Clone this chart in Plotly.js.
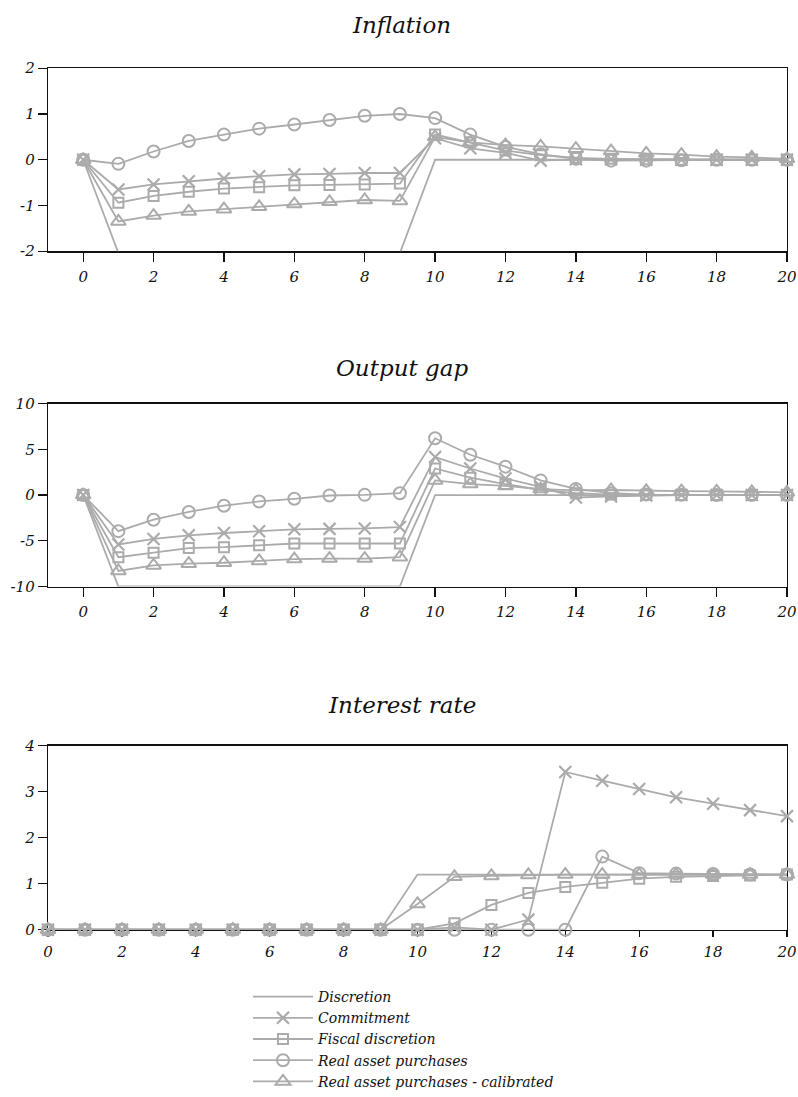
<!DOCTYPE html>
<html>
<head>
<meta charset="utf-8">
<script src="https://cdn.plot.ly/plotly-3.0.1.min.js"></script>
<style>
  html, body { margin: 0; padding: 0; background: #fff; }
  #chart { width: 798px; height: 1097px; }
</style>
</head>
<body>
<div id="chart"></div>
<script>
// Periods after the shock
const periods = [0,1,2,3,4,5,6,7,8,9,10,11,12,13,14,15,16,17,18,19,20];

const seriesNames = ['Discretion', 'Commitment', 'Fiscal discretion',
  'Real asset purchases', 'Real asset purchases - calibrated'];

// Inflation responses
const inflDiscretion = [0,-2.04,-2.04,-2.04,-2.04,-2.04,-2.04,-2.04,-2.04,-2.04,0,0,0,0,0,0,0,0,0,0,0];
const inflCommitment = [0,-0.65,-0.54,-0.47,-0.41,-0.36,-0.32,-0.31,-0.29,-0.29,0.47,0.25,0.15,-0.02,0.01,0.01,0,0,0,0,0];
const inflFiscal     = [0,-0.94,-0.79,-0.70,-0.63,-0.60,-0.56,-0.55,-0.54,-0.52,0.55,0.38,0.20,0.10,0.04,0.02,0.01,0,0,0,0];
const inflRap        = [0,-0.09,0.18,0.41,0.55,0.68,0.77,0.87,0.96,1.00,0.91,0.55,0.28,0.12,0.02,-0.02,-0.02,-0.01,0,0,0];
const inflRapCal     = [0,-1.35,-1.22,-1.13,-1.08,-1.03,-0.97,-0.92,-0.88,-0.90,0.50,0.38,0.32,0.29,0.24,0.19,0.14,0.11,0.07,0.05,0.02];

// Output gap responses
const gapDiscretion = [0,-10,-10,-10,-10,-10,-10,-10,-10,-10,0,0,0,0,0,0,0,0,0,0,0];
const gapCommitment = [0,-5.4,-4.8,-4.4,-4.15,-3.95,-3.75,-3.7,-3.65,-3.5,4.15,2.9,1.8,0.9,-0.27,-0.15,-0.05,0,0,0,0];
const gapFiscal     = [0,-6.8,-6.3,-5.8,-5.7,-5.5,-5.3,-5.3,-5.3,-5.3,2.9,1.9,1.2,0.55,0.2,0.05,0.02,0,0,0,0];
const gapRap        = [0,-3.95,-2.7,-1.85,-1.17,-0.7,-0.41,-0.05,0.02,0.2,6.2,4.4,3.1,1.6,0.67,0.2,0.05,0.02,0,0,0];
const gapRapCal     = [0,-8.3,-7.7,-7.5,-7.4,-7.2,-7.0,-6.95,-6.95,-6.8,1.6,1.2,1.0,0.65,0.5,0.55,0.45,0.42,0.4,0.35,0.3];

// Interest rate responses
const rateDiscretion = [0,0,0,0,0,0,0,0,0,0,1.2,1.2,1.2,1.2,1.2,1.2,1.2,1.2,1.2,1.2,1.2];
const rateCommitment = [0,0,0,0,0,0,0,0,0,0,0,0.05,0,0.22,3.43,3.24,3.06,2.88,2.74,2.6,2.47];
const rateFiscal     = [0,0,0,0,0,0,0,0,0,0,0,0.14,0.54,0.8,0.93,1.02,1.11,1.15,1.17,1.18,1.2];
const rateRap        = [0,0,0,0,0,0,0,0,0,0,0,0,0,0,0,1.59,1.23,1.22,1.21,1.2,1.2];
const rateRapCal     = [0,0,0,0,0,0,0,0,0,0,0.56,1.15,1.17,1.19,1.2,1.2,1.2,1.2,1.2,1.2,1.2];

// Tick labels
const xTicks = [0,2,4,6,8,10,12,14,16,18,20];
const xTickText = ['0','2','4','6','8','10','12','14','16','18','20'];
const inflTicks = [-2,-1,0,1,2];
const inflTickText = ['-2','-1','0','1','2'];
const gapTicks = [-10,-5,0,5,10];
const gapTickText = ['-10','-5','0','5','10'];
const rateTicks = [0,1,2,3,4];
const rateTickText = ['0','1','2','3','4'];

const GREY = '#ababab';
const FONT = '"DejaVu Serif", "Liberation Serif", serif';

const markerStyles = [
  null,
  {symbol: 'x-thin-open', size: 12, line: {width: 2.2, color: GREY}, color: GREY},
  {symbol: 'square-open', size: 10, line: {width: 2, color: GREY}, color: GREY},
  {symbol: 'circle-open', size: 12, line: {width: 2, color: GREY}, color: GREY},
  {symbol: 'triangle-up-open', size: 13, line: {width: 2, color: GREY}, color: GREY}
];

function panelTraces(seriesList, xa, ya, showLegend) {
  return seriesList.map((vals, i) => {
    const tr = {
      x: periods, y: vals, xaxis: xa, yaxis: ya,
      name: seriesNames[i], legendgroup: seriesNames[i],
      showlegend: showLegend, cliponaxis: false,
      type: 'scatter',
      mode: i === 0 ? 'lines' : 'lines+markers',
      line: {color: GREY, width: 1.8},
      hoverinfo: 'x+y+name'
    };
    if (markerStyles[i]) tr.marker = markerStyles[i];
    return tr;
  });
}

const traces = [].concat(
  panelTraces([inflDiscretion, inflCommitment, inflFiscal, inflRap, inflRapCal], 'x', 'y', false),
  panelTraces([gapDiscretion, gapCommitment, gapFiscal, gapRap, gapRapCal], 'x2', 'y2', false),
  panelTraces([rateDiscretion, rateCommitment, rateFiscal, rateRap, rateRapCal], 'x3', 'y3', true)
);

const H = 1097;
function dom(top, bottom) { return [1 - bottom / H, 1 - top / H]; }

const tickFont = {family: FONT, size: 15, color: '#111', style: 'italic'};

function xAxis(anchor, range, ticklen, standoff) {
  return {
    anchor: anchor, domain: [0, 1], range: range,
    tickvals: xTicks, ticktext: xTickText,
    ticks: 'outside', ticklen: ticklen, tickwidth: 1.3, tickcolor: '#111',
    ticklabelstandoff: standoff,
    showline: true, linecolor: '#111', linewidth: 1.3, mirror: true,
    showgrid: false, zeroline: false, tickfont: tickFont,
    layer: 'below traces', fixedrange: true
  };
}
function yAxis(anchor, domain, range, vals, text) {
  return {
    anchor: anchor, domain: domain, range: range,
    tickvals: vals, ticktext: text,
    ticks: 'outside', ticklen: 9, tickwidth: 1.3, tickcolor: '#111',
    showline: true, linecolor: '#111', linewidth: 1.3, mirror: true,
    showgrid: false, zeroline: false, tickfont: tickFont,
    layer: 'below traces', fixedrange: true
  };
}

const titleFont = {family: FONT, size: 23, color: '#111', style: 'italic'};
const titleX = (402 - 48) / 739;

const layout = {
  width: 798, height: 1097,
  margin: {l: 48, r: 11, t: 0, b: 0},
  paper_bgcolor: '#fff', plot_bgcolor: '#fff',
  showlegend: true,
  title: {text: 'Inflation', font: titleFont, x: 402 / 798, xanchor: 'center', y: 1 - 25 / H, yanchor: 'middle'},
  xaxis: xAxis('y', [-1, 20], 9, 2),
  yaxis: yAxis('x', dom(69, 254), [-2, 2], inflTicks, inflTickText),
  xaxis2: xAxis('y2', [-1, 20], 9, 2),
  yaxis2: yAxis('x2', dom(408, 593), [-10, 10], gapTicks, gapTickText),
  xaxis3: xAxis('y3', [0, 20], 6, 2),
  yaxis3: yAxis('x3', dom(754, 940), [0, 4], rateTicks, rateTickText),
  annotations: [
    {text: 'Output gap', xref: 'paper', yref: 'paper', x: titleX, y: 1 - 372 / H,
     xanchor: 'center', yanchor: 'middle', showarrow: false, font: titleFont},
    {text: 'Interest rate', xref: 'paper', yref: 'paper', x: titleX, y: 1 - 713 / H,
     xanchor: 'center', yanchor: 'middle', showarrow: false, font: titleFont}
  ],
  legend: {
    x: (248 - 48) / 739, xanchor: 'left', y: 1 - 992 / H, yanchor: 'top',
    orientation: 'v', bgcolor: 'rgba(0,0,0,0)', borderwidth: 0,
    itemwidth: 60, tracegroupgap: 0,
    font: {family: FONT, size: 14, color: '#111', style: 'italic'}
  }
};

Plotly.newPlot('chart', traces, layout, {displayModeBar: false, staticPlot: true});
</script>
</body>
</html>
